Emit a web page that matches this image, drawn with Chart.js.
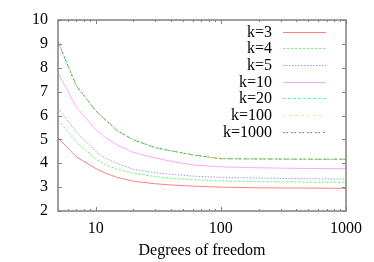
<!DOCTYPE html>
<html>
<head>
<meta charset="utf-8">
<script src="https://cdn.jsdelivr.net/npm/chart.js@4"></script>
<style>
  html, body { margin: 0; padding: 0; background: #fff; }
  #chart { display: block; }
</style>
</head>
<body>
<canvas id="chart" width="374" height="262"></canvas>
<script>
// degrees of freedom (x) and the curve values
const dfValues = [5, 7, 10, 12, 15, 20, 30, 40, 60, 100, 200, 500, 1000];
const k3    = [5.06, 4.27, 3.78, 3.58, 3.40, 3.25, 3.14, 3.09, 3.04, 3.00, 2.97, 2.96, 2.95];
const k4    = [5.81, 4.90, 4.18, 3.93, 3.74, 3.58, 3.44, 3.37, 3.31, 3.26, 3.23, 3.21, 3.20];
const k5    = [6.30, 5.32, 4.50, 4.20, 3.98, 3.75, 3.60, 3.54, 3.46, 3.41, 3.38, 3.35, 3.34];
const k10   = [7.79, 6.35, 5.42, 5.07, 4.75, 4.45, 4.22, 4.08, 3.93, 3.85, 3.81, 3.78, 3.77];
const k20   = [9.09, 7.25, 6.20, 5.81, 5.35, 4.98, 4.65, 4.52, 4.35, 4.19, 4.18, 4.17, 4.17];
const k100  = [9.09, 7.25, 6.20, 5.81, 5.35, 4.98, 4.65, 4.52, 4.35, 4.19, 4.18, 4.17, 4.17];
const k1000 = [9.09, 7.25, 6.20, 5.81, 5.35, 4.98, 4.65, 4.52, 4.35, 4.19, 4.18, 4.17, 4.17];

const seriesNames = ['k=3', 'k=4', 'k=5', 'k=10', 'k=20', 'k=100', 'k=1000'];
const seriesValues = [k3, k4, k5, k10, k20, k100, k1000];
const xTickValues = [10, 100, 1000];
const yTickValues = [2, 3, 4, 5, 6, 7, 8, 9, 10];

const lineColors = [
  'rgba(255,0,0,0.5)',
  'rgba(0,230,0,0.5)',
  'rgba(0,0,255,0.4)',
  'rgba(255,0,255,0.35)',
  'rgba(0,230,230,0.65)',
  'rgba(240,240,0,0.65)',
  'rgba(0,0,0,0.4)'
];
const lineDashes = [[], [2.5, 1.5], [1.5, 1.5], [], [3, 2], [3, 3], [2, 1, 2, 3]];

const FONT = "'Liberation Serif', 'DejaVu Serif', serif";

// gnuplot-like frame with inward ticks
const framePlugin = {
  id: 'frame',
  afterDatasetsDraw(chart) {
    const { ctx, chartArea: a, scales } = chart;
    ctx.save();
    ctx.strokeStyle = '#808080';
    ctx.lineWidth = 1;
    // y ticks, both sides
    yTickValues.forEach(v => {
      const y = Math.round(scales.y.getPixelForValue(v)) + 0.5;
      ctx.beginPath();
      ctx.moveTo(a.left, y); ctx.lineTo(a.left + 4, y);
      ctx.moveTo(a.right, y); ctx.lineTo(a.right - 4, y);
      ctx.stroke();
    });
    // x ticks, major and minor, top and bottom
    for (let dec = 1; dec <= 1000; dec *= 10) {
      for (let m = 1; m <= 9; m++) {
        const v = dec * m;
        if (v < scales.x.min || v > scales.x.max) continue;
        const x = Math.round(scales.x.getPixelForValue(v)) + 0.5;
        const len = m === 1 ? 4 : 2;
        ctx.beginPath();
        ctx.moveTo(x, a.bottom); ctx.lineTo(x, a.bottom - len);
        ctx.moveTo(x, a.top); ctx.lineTo(x, a.top + len);
        ctx.stroke();
      }
    }
    ctx.lineWidth = 1.5;
    ctx.strokeRect(a.left, a.top, a.right - a.left, a.bottom - a.top);

    // key, gnuplot style: text right aligned, sample line on its right
    ctx.font = '16px ' + FONT;
    ctx.textAlign = 'right';
    ctx.textBaseline = 'middle';
    chart.data.datasets.forEach((ds, i) => {
      const y = a.top + 11.5 + i * 16.67;
      ctx.fillStyle = '#000';
      ctx.fillText(ds.label, a.left + 214, y + 1);
      ctx.strokeStyle = ds.borderColor;
      ctx.setLineDash(ds.borderDash);
      ctx.lineWidth = 1;
      ctx.beginPath();
      ctx.moveTo(a.left + 225, Math.round(y) + 0.5);
      ctx.lineTo(a.left + 268, Math.round(y) + 0.5);
      ctx.stroke();
      ctx.setLineDash([]);
    });
    ctx.restore();
  }
};

const datasets = seriesNames.map((name, i) => ({
  label: name,
  data: dfValues.map((df, j) => ({ x: df, y: seriesValues[i][j] })),
  borderColor: lineColors[i],
  borderDash: lineDashes[i],
  borderWidth: 1,
  pointRadius: 0,
  tension: 0,
  fill: false,
  order: seriesNames.length - i
}));

new Chart(document.getElementById('chart'), {
  type: 'line',
  data: { datasets },
  options: {
    responsive: false,
    animation: false,
    devicePixelRatio: 1,
    layout: { padding: { top: 20, right: 28, left: 0, bottom: 0 } },
    plugins: { legend: { display: false }, tooltip: { enabled: false } },
    scales: {
      x: {
        type: 'logarithmic',
        min: 5,
        max: 1000,
        grid: { display: false, drawTicks: false },
        border: { display: false },
        afterBuildTicks: scale => { scale.ticks = xTickValues.map(v => ({ value: v })); },
        afterFit: scale => { scale.height = 51; },
        ticks: {
          color: '#000',
          font: { family: FONT, size: 16 },
          padding: 8,
          maxRotation: 0,
          autoSkip: false,
          callback: v => String(v)
        },
        title: {
          display: true,
          text: 'Degrees of freedom',
          color: '#000',
          font: { family: FONT, size: 16 },
          padding: { top: 0, bottom: 2 }
        }
      },
      y: {
        min: 2,
        max: 10,
        grid: { display: false, drawTicks: false },
        border: { display: false },
        afterBuildTicks: scale => { scale.ticks = yTickValues.map(v => ({ value: v })); },
        afterFit: scale => { scale.width = 58; },
        ticks: {
          color: '#000',
          font: { family: FONT, size: 16 },
          padding: 10
        }
      }
    }
  },
  plugins: [framePlugin]
});
</script>
</body>
</html>
